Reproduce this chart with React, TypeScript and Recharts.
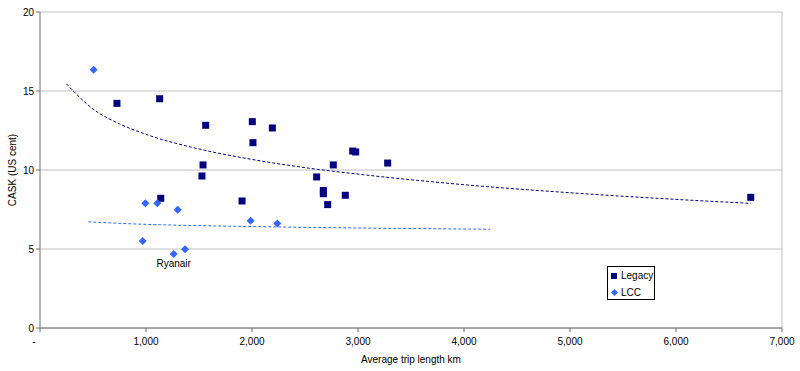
import React from 'react';
import {
  ScatterChart,
  Scatter,
  XAxis,
  YAxis,
  CartesianGrid,
  ReferenceLine,
  LabelList,
} from 'recharts';

// Legacy carriers: trip length (km) and CASK (US cent)
const legacyTrip = [726, 1129, 1563, 2003, 2009, 2192, 1538, 1528, 1139, 1906, 2950, 2978, 2767, 3280, 2610, 2673, 2673, 2880, 2714, 6705];
const legacyCask = [14.22, 14.51, 12.83, 13.06, 11.73, 12.66, 10.32, 9.62, 8.21, 8.04, 11.2, 11.14, 10.32, 10.44, 9.56, 8.7, 8.5, 8.4, 7.81, 8.27];

// Low cost carriers
const lccTrip = [506, 994, 1107, 1299, 969, 1261, 1368, 1987, 2239];
const lccCask = [16.35, 7.89, 7.89, 7.49, 5.51, 4.68, 4.98, 6.79, 6.62];
const lccLabels = ['', '', '', '', '', 'Ryanair', '', '', ''];

// Trend lines
const legacyTrendTrip = [250, 500, 750, 1000, 1500, 2000, 2500, 3000, 4000, 5000, 6000, 6705];
const legacyTrendCask = [15.45, 13.86, 12.92, 12.26, 11.33, 10.67, 10.15, 9.74, 9.07, 8.56, 8.14, 7.89];
const lccTrendTrip = [456, 1000, 1500, 2000, 3000, 4245];
const lccTrendCask = [6.72, 6.56, 6.48, 6.42, 6.33, 6.25];

const xTicks = [0, 1000, 2000, 3000, 4000, 5000, 6000, 7000];
const yTicks = [0, 5, 10, 15, 20];

const LEGACY = '#000080';
const LCC = '#3366ff';
const FONT = '"Liberation Sans", Arial, sans-serif';

const legacyData = legacyTrip.map((x, i) => ({ x, y: legacyCask[i] }));
const lccData = lccTrip.map((x, i) => ({ x, y: lccCask[i], label: lccLabels[i] || undefined }));
const legacyTrend = legacyTrendTrip.map((x, i) => ({ x, y: legacyTrendCask[i] }));
const lccTrend = lccTrendTrip.map((x, i) => ({ x, y: lccTrendCask[i] }));

const SquareShape = (props: any) => {
  const { cx, cy } = props;
  return <rect x={cx - 3.5} y={cy - 3.5} width={7} height={7} fill={LEGACY} />;
};

const DiamondShape = (props: any) => {
  const { cx, cy } = props;
  const r = 4;
  return <polygon points={`${cx},${cy - r} ${cx + r},${cy} ${cx},${cy + r} ${cx - r},${cy}`} fill={LCC} />;
};

const NoShape = () => <g />;

// Excel-style x tick: zero shows as a dash, slightly left of the axis
const XTick = (props: any) => {
  const { x, y, payload } = props;
  const v = payload.value as number;
  const text = v === 0 ? '-' : v.toLocaleString('en-US');
  return (
    <text x={v === 0 ? x - 6 : x} y={y + 4} dy="0.71em" textAnchor="middle" fill="#000" fontSize={10} fontFamily={FONT}>
      {text}
    </text>
  );
};

const App: React.FC = () => {
  return (
    <div style={{ position: 'absolute', left: 0, top: 0, width: 800, height: 371, background: '#fff', fontFamily: FONT }}>
      <ScatterChart width={800} height={371} margin={{ top: 12, right: 18, left: 0, bottom: 0 }}>
        <CartesianGrid vertical={false} stroke="#c0c0c0" />
        <XAxis
          type="number"
          dataKey="x"
          domain={[0, 7000]}
          ticks={xTicks}
          height={43}
          stroke="#707070"
          tickSize={4}
          tick={<XTick />}
          label={{ value: 'Average trip length km', position: 'center', dy: 10, fill: '#000', fontSize: 10, fontFamily: FONT }}
          allowDataOverflow
        />
        <YAxis
          type="number"
          dataKey="y"
          domain={[0, 20]}
          ticks={yTicks}
          width={40}
          stroke="#707070"
          tickSize={4}
          tick={{ fill: '#000', fontSize: 10, fontFamily: FONT }}
          label={{ value: 'CASK (US cent)', angle: -90, position: 'center', dx: -8, fill: '#000', fontSize: 10, fontFamily: FONT }}
        />
        <ReferenceLine x={7000} stroke="#c0c0c0" />
        <Scatter
          data={legacyTrend}
          shape={NoShape}
          line={{ stroke: LEGACY, strokeWidth: 1, strokeDasharray: '3 2' }}
          lineJointType="monotoneX"
          isAnimationActive={false}
        />
        <Scatter
          data={lccTrend}
          shape={NoShape}
          line={{ stroke: LCC, strokeWidth: 1, strokeDasharray: '3 2' }}
          lineJointType="monotoneX"
          isAnimationActive={false}
        />
        <Scatter name="Legacy" data={legacyData} shape={SquareShape} isAnimationActive={false} />
        <Scatter name="LCC" data={lccData} shape={DiamondShape} isAnimationActive={false}>
          <LabelList dataKey="label" position="bottom" offset={1} fill="#000" fontSize={10} fontFamily={FONT} />
        </Scatter>
      </ScatterChart>
      <div
        style={{
          position: 'absolute',
          left: 607,
          top: 266,
          width: 48,
          height: 34,
          border: '1px solid #000',
          background: '#fff',
          fontSize: 10,
          lineHeight: '17px',
          boxSizing: 'border-box',
          paddingLeft: 3,
        }}
      >
        <div style={{ display: 'flex', alignItems: 'center' }}>
          <span style={{ display: 'inline-block', width: 6, height: 6, background: LEGACY, marginRight: 4 }} />
          Legacy
        </div>
        <div style={{ display: 'flex', alignItems: 'center' }}>
          <svg width={7} height={7} style={{ marginRight: 3 }}>
            <polygon points="3.5,0 7,3.5 3.5,7 0,3.5" fill={LCC} />
          </svg>
          LCC
        </div>
      </div>
    </div>
  );
};

export default App;
